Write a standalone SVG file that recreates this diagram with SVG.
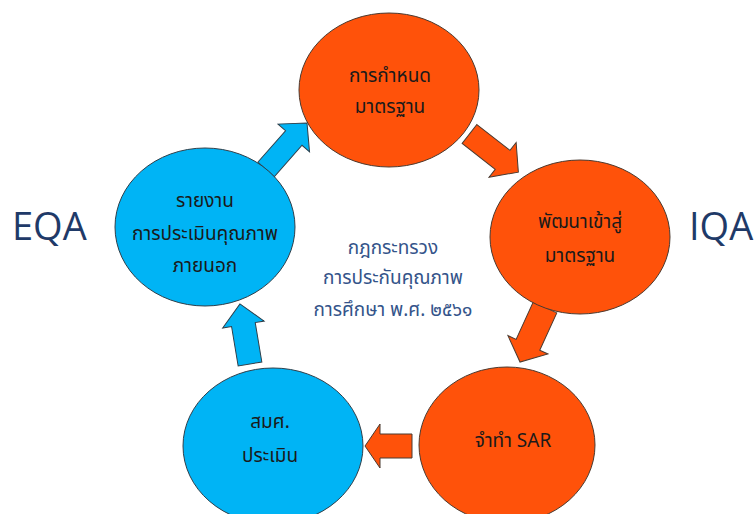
<svg xmlns="http://www.w3.org/2000/svg" width="755" height="514" viewBox="0 0 755 514">
<style>
.or{fill:#FF520A;stroke:#4a3a30;stroke-width:1}
.bl{fill:#00B4F5;stroke:#2f3f4a;stroke-width:1}
.t{font-family:"Noto Sans Thai","Noto Sans","DejaVu Sans",sans-serif;font-size:19px;fill:#1a1a1a;text-anchor:middle}
.c{font-family:"Noto Sans Thai","Noto Sans","DejaVu Sans",sans-serif;font-size:19px;fill:#34548a;text-anchor:middle}
.big{font-family:"Open Sans","Lato",sans-serif;font-size:38px;fill:#1F3A68}
</style>
<rect width="755" height="514" fill="#ffffff"/>
<g id="connectors">
<path class="or" transform="translate(469.5,134) rotate(38)" d="M0,-12 L42,-12 L42,-22 L62,0 L42,22 L42,12 L0,12 Z"/>
<path class="or" transform="translate(545,307.5) rotate(114.6)" d="M0,-13 L41,-13 L41,-22 L60,0 L41,22 L41,13 L0,13 Z"/>
<path class="or" transform="translate(412,446) rotate(180)" d="M0,-12 L32,-12 L32,-22 L47,0 L32,22 L32,12 L0,12 Z"/>
<path class="bl" transform="translate(250,364) rotate(-99.5)" d="M0,-12 L40,-12 L40,-21 L61,0 L40,21 L40,12 L0,12 Z"/>
<path class="bl" transform="translate(266,169.5) rotate(-48.6)" d="M0,-11 L42,-11 L42,-21 L62,0 L42,21 L42,11 L0,11 Z"/>
</g>
<g id="node-standard">
<ellipse class="or" cx="389" cy="90" rx="90" ry="77"/>
<text class="t" x="390" y="82">การกำหนด</text>
<text class="t" x="390" y="113">มาตรฐาน</text>
</g>
<g id="node-develop">
<ellipse class="or" cx="580" cy="237" rx="90" ry="77"/>
<text class="t" x="580" y="228">พัฒนาเข้าสู่</text>
<text class="t" x="580" y="262">มาตรฐาน</text>
</g>
<g id="node-sar">
<ellipse class="or" cx="507" cy="445" rx="88" ry="78"/>
<text class="t" x="513" y="447">จำทำ SAR</text>
</g>
<g id="node-onesqa">
<ellipse class="bl" cx="273" cy="446" rx="90" ry="78"/>
<text class="t" x="270" y="428">สมศ.</text>
<text class="t" x="270" y="462">ประเมิน</text>
</g>
<g id="node-report">
<ellipse class="bl" cx="205" cy="227" rx="90" ry="79"/>
<text class="t" x="205" y="207">รายงาน</text>
<text class="t" x="205" y="240">การประเมินคุณภาพ</text>
<text class="t" x="205" y="272">ภายนอก</text>
</g>
<g id="center-label">
<text class="c" x="393" y="254">กฎกระทรวง</text>
<text class="c" x="393" y="284">การประกันคุณภาพ</text>
<text class="c" x="393" y="316">การศึกษา พ.ศ. ๒๕๖๑</text>
</g>
<g id="side-labels">
<text class="big" x="12" y="240">EQA</text>
<text class="big" x="689" y="240">IQA</text>
</g>
</svg>
